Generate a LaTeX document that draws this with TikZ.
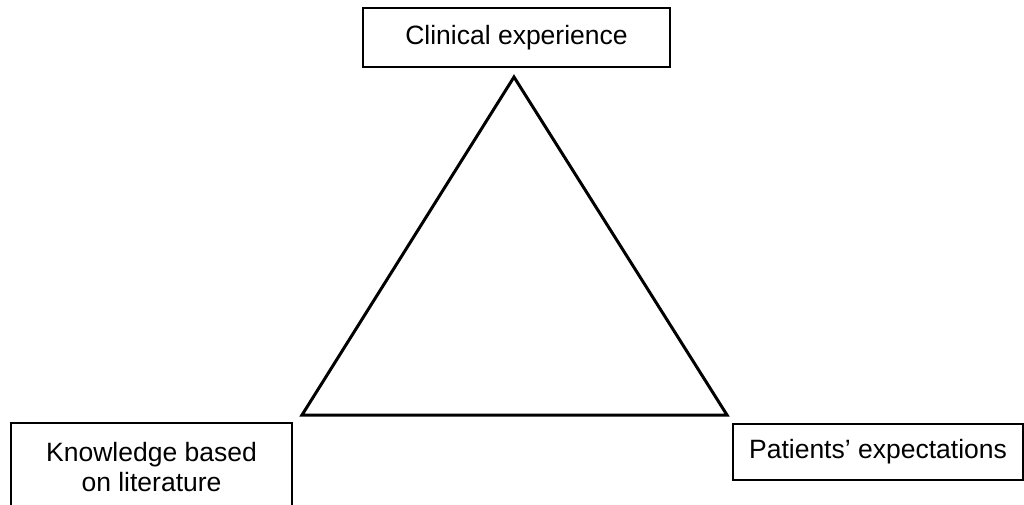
\documentclass[tikz,border=0pt]{standalone}
\usepackage{fontspec}
\setmainfont{Liberation Sans}
\usepackage{tikz}
\usetikzlibrary{positioning}

\begin{document}
\begin{tikzpicture}[x=1pt,y=-1pt,
  box/.style = {draw,line width=2pt,align=center,inner sep=0pt,
  font=\fontsize{26.5}{30}\selectfont},
  side/.style = {line width=3pt,line join=miter}]
 \clip (0,0) rectangle (1024,504);
 \node[box,minimum width=307pt,minimum height=59pt] (clin) at (516.5,37.5) {Clinical experience};
 \node[box,minimum width=281pt,minimum height=88pt] (know) at (151.5,467) {Knowledge based\\on literature};
 \node[box,minimum width=290pt,minimum height=56pt] (pat) at (878,452) {Patients' expectations};
 % triangle
 \coordinate (top) at (514,77);
 \coordinate (left) at (302,415);
 \coordinate (right) at (727,415);
 \draw[side] (top) -- (left) -- (right) -- cycle;
\end{tikzpicture}
\end{document}
